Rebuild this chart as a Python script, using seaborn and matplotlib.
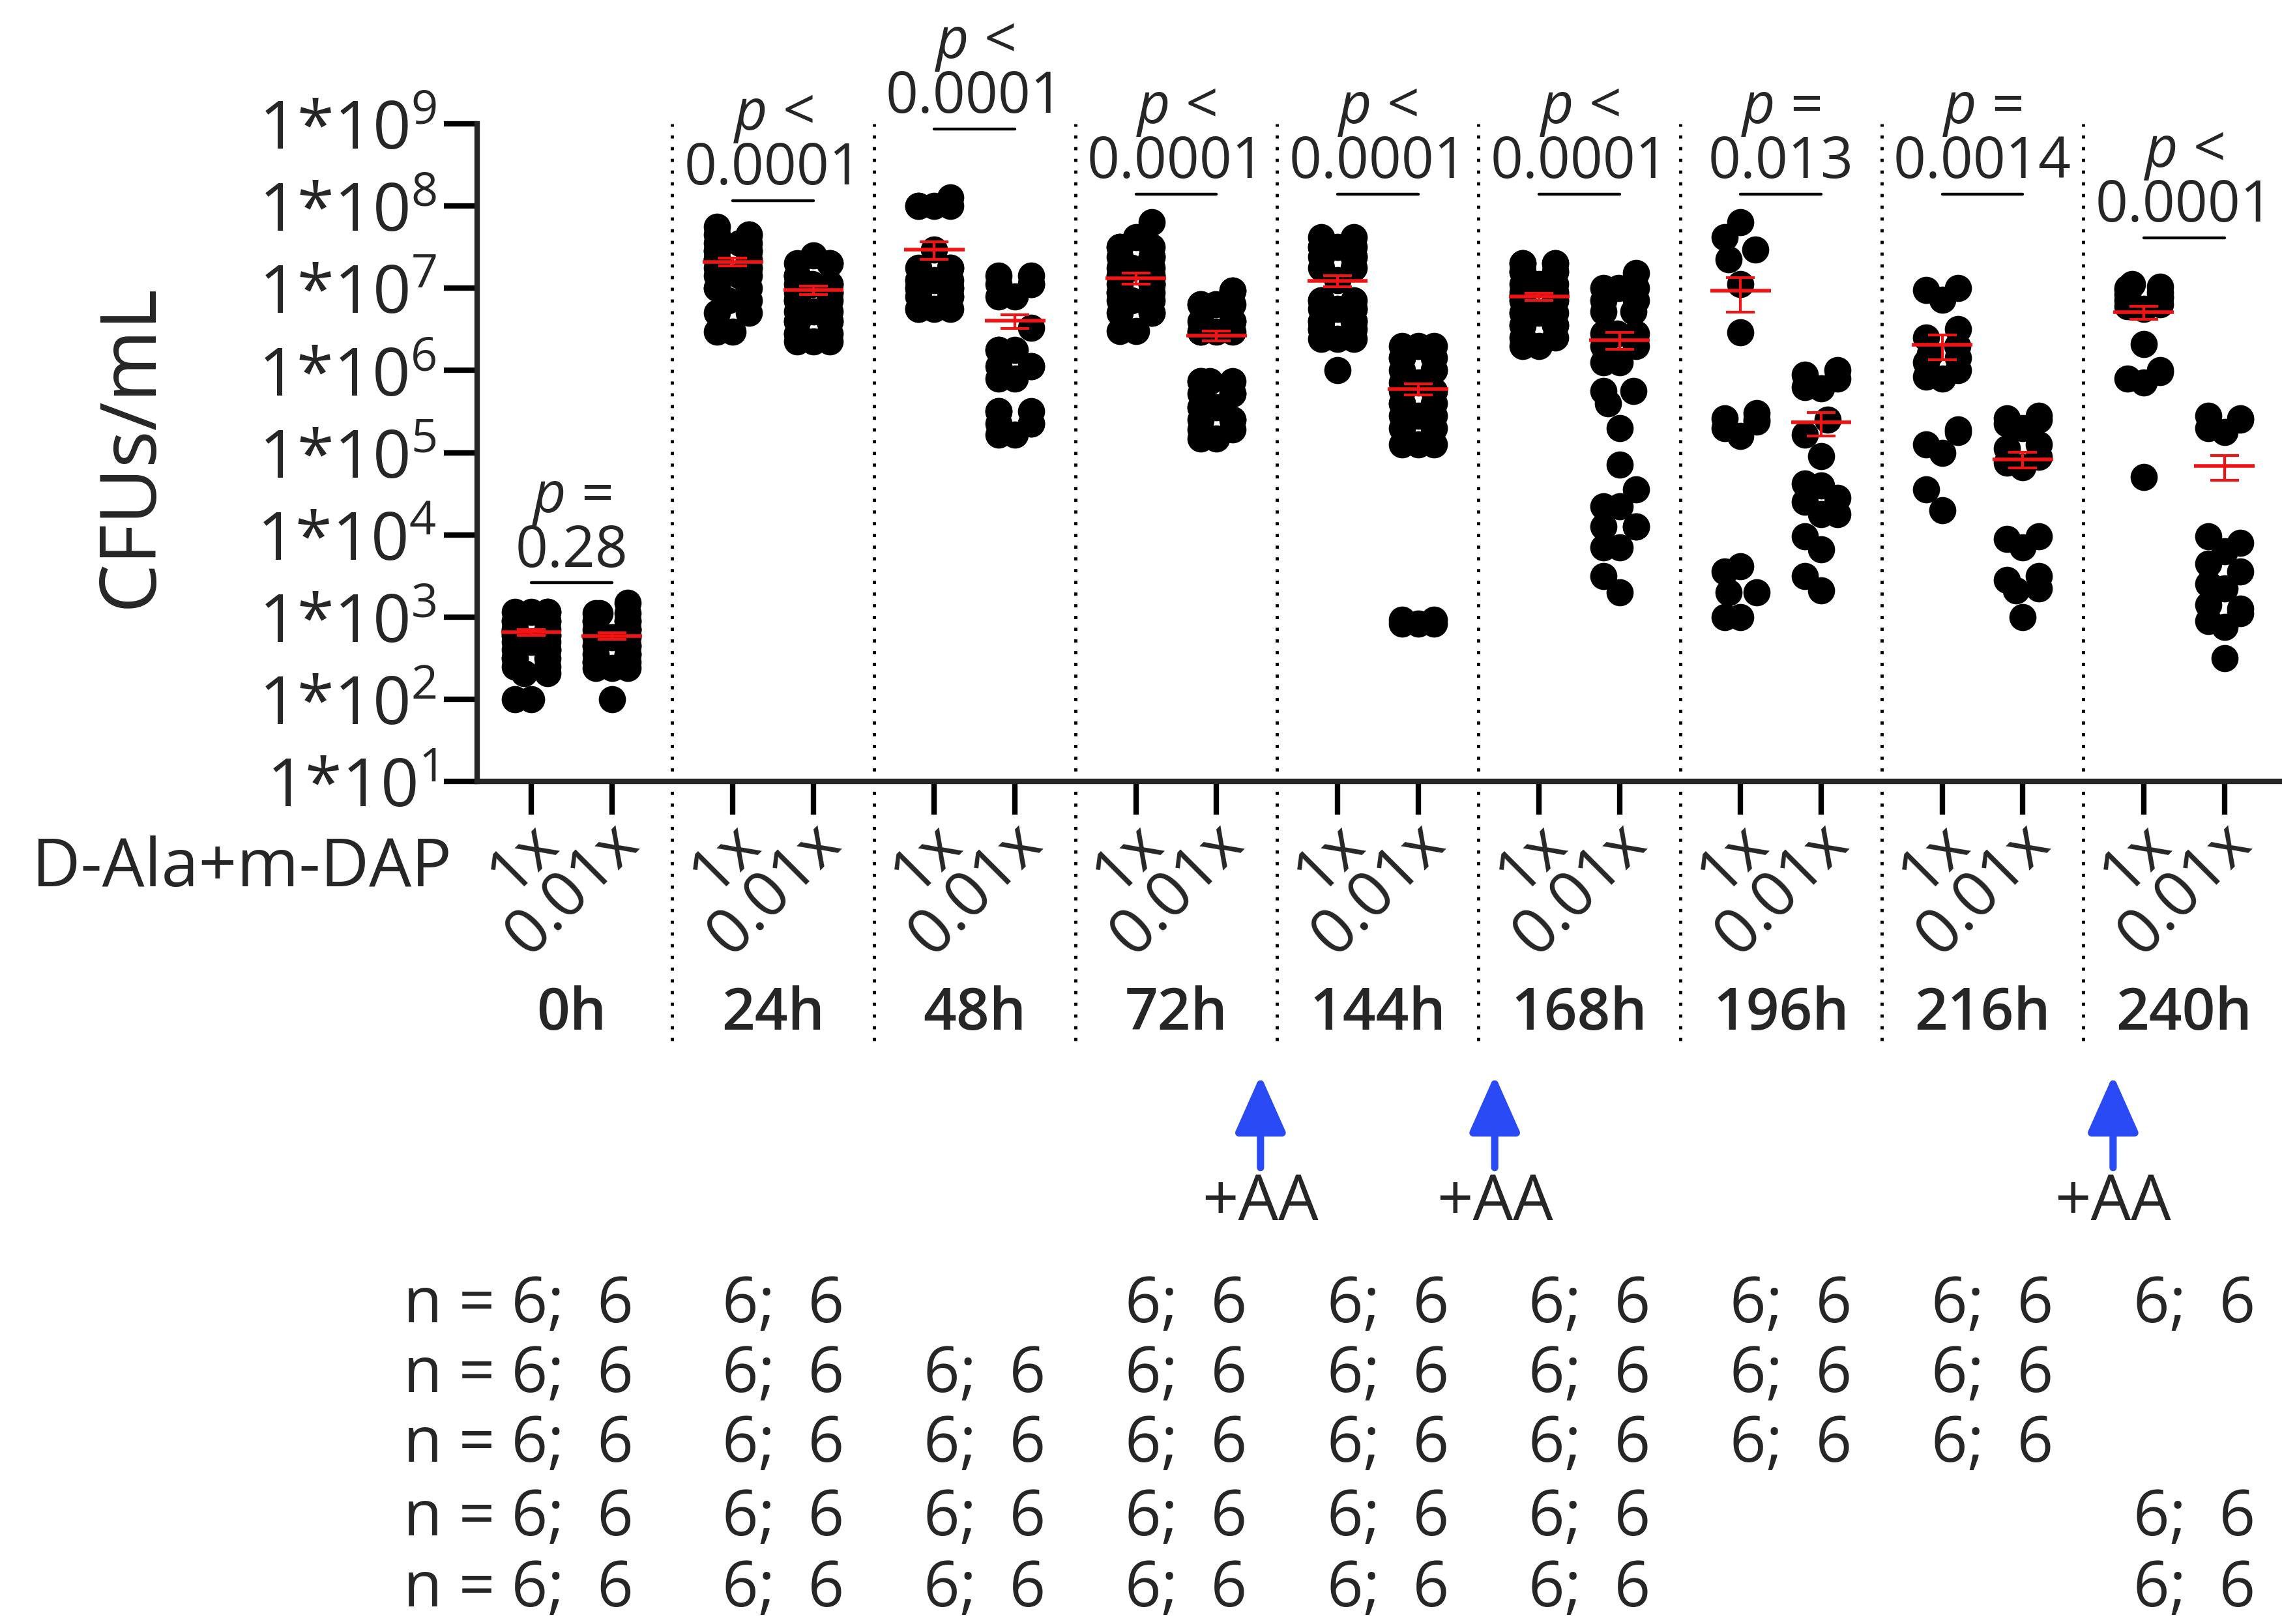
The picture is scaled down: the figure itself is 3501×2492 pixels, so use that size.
import numpy as np
import pandas as pd
import matplotlib
matplotlib.use('Agg')
import matplotlib.pyplot as plt
import matplotlib.transforms as mtransforms
import seaborn as sns

# time points and supplement levels
times = ['0h', '24h', '48h', '72h', '144h', '168h', '196h', '216h', '240h']
doses = ['1x', '0.01x']

# log10(CFUs/mL) of each dot
lg_0h_1x = [3.06, 3.06, 3.06, 3.06, 2.95, 2.95, 2.95, 2.95, 2.85, 2.85, 2.85, 2.78, 2.78, 2.78, 2.78,
            2.7, 2.7, 2.7, 2.6, 2.6, 2.6, 2.5, 2.5, 2.5, 2.4, 2.4, 2.32, 2.32, 2.0, 2.0]
lg_0h_001 = [3.17, 3.05, 3.05, 3.05, 2.95, 2.95, 2.95, 2.95, 2.85, 2.85, 2.85, 2.85, 2.75, 2.75, 2.75,
             2.75, 2.65, 2.65, 2.65, 2.65, 2.55, 2.55, 2.55, 2.45, 2.45, 2.45, 2.38, 2.38, 2.38, 2.0]
lg_24h_1x = [7.75, 7.65, 7.65, 7.65, 7.55, 7.55, 7.55, 7.45, 7.45, 7.45, 7.45, 7.35, 7.35, 7.35, 7.35,
             7.25, 7.25, 7.25, 7.15, 7.15, 7.15, 7.0, 7.0, 7.0, 6.85, 6.85, 6.7, 6.7, 6.47, 6.47]
lg_24h_001 = [7.4, 7.3, 7.3, 7.3, 7.15, 7.15, 7.15, 7.05, 7.05, 7.05, 7.05, 6.95, 6.95, 6.95, 6.85,
              6.85, 6.85, 6.72, 6.72, 6.72, 6.6, 6.6, 6.6, 6.6, 6.45, 6.45, 6.45, 6.35, 6.35, 6.35]
lg_48h_1x = [8.1, 8.0, 8.0, 8.0, 8.0, 7.47, 7.25, 7.25, 7.25, 7.1, 7.1, 7.1, 7.1, 7.0, 7.0, 7.0, 7.0,
             6.9, 6.9, 6.9, 6.75, 6.75, 6.75, 6.75]
lg_48h_001 = [7.15, 7.15, 7.05, 7.05, 7.05, 6.9, 6.9, 6.52, 6.25, 6.25, 6.25, 6.05, 6.05, 6.05, 5.9, 5.9,
              5.5, 5.5, 5.5, 5.35, 5.35, 5.35, 5.22, 5.22]
lg_72h_1x = [7.8, 7.62, 7.5, 7.5, 7.5, 7.38, 7.38, 7.38, 7.25, 7.25, 7.25, 7.15, 7.15, 7.15, 7.15,
             7.05, 7.05, 7.05, 7.05, 6.95, 6.95, 6.95, 6.85, 6.85, 6.85, 6.7, 6.7, 6.7, 6.48, 6.48]
lg_72h_001 = [6.97, 6.97, 6.8, 6.8, 6.8, 6.8, 6.6, 6.6, 6.6, 6.47, 6.47, 6.47, 6.47, 5.87, 5.87, 5.87,
              5.87, 5.72, 5.72, 5.72, 5.55, 5.55, 5.55, 5.4, 5.4, 5.4, 5.28, 5.28, 5.17, 5.17]
lg_144h_1x = [7.62, 7.62, 7.5, 7.5, 7.5, 7.5, 7.38, 7.38, 7.38, 7.25, 7.25, 7.1, 6.85, 6.85, 6.85,
              6.75, 6.75, 6.75, 6.75, 6.6, 6.6, 6.6, 6.6, 6.5, 6.5, 6.5, 6.38, 6.38, 6.38, 6.0]
lg_144h_001 = [6.3, 6.3, 6.3, 6.15, 6.15, 6.15, 6.0, 6.0, 6.0, 5.85, 5.85, 5.75, 5.75, 5.75, 5.6,
               5.6, 5.6, 5.45, 5.45, 5.45, 5.3, 5.3, 5.1, 5.1, 5.1, 2.97, 2.97, 2.92, 2.92, 2.92]
lg_168h_1x = [7.3, 7.3, 7.3, 7.3, 7.2, 7.2, 7.2, 7.2, 7.05, 7.05, 7.05, 6.95, 6.95, 6.95, 6.85, 6.85,
              6.85, 6.85, 6.7, 6.7, 6.7, 6.7, 6.55, 6.55, 6.55, 6.55, 6.4, 6.4, 6.3, 6.3]
lg_168h_001 = [7.18, 7.0, 7.0, 7.0, 6.85, 6.85, 6.72, 6.72, 6.45, 6.45, 6.45, 6.3, 6.3, 6.1, 6.1,
               5.75, 5.75, 5.6, 5.3, 4.85, 4.55, 4.35, 4.35, 4.1, 4.1, 4.1, 3.85, 3.85, 3.5, 3.3]
lg_196h_1x = [7.8, 7.62, 7.47, 7.35, 7.05, 6.46, 5.48, 5.42, 5.4, 5.38, 5.3, 5.2,
              3.62, 3.55, 3.3, 3.3, 3.0, 3.0]
lg_196h_001 = [6.0, 5.95, 5.9, 5.8, 5.78, 5.4, 5.22, 4.96, 4.62, 4.6, 4.45, 4.4,
               4.25, 4.25, 3.98, 3.82, 3.5, 3.32]
lg_216h_1x = [7.0, 6.98, 6.86, 6.5, 6.4, 6.3, 6.2, 6.15, 6.1, 6.0, 5.92, 5.9,
              5.28, 5.25, 5.1, 5.0, 4.55, 4.3]
lg_216h_001 = [5.45, 5.42, 5.4, 5.35, 5.3, 5.1, 5.05, 4.95, 4.88, 4.82, 3.98, 3.95,
               3.85, 3.5, 3.45, 3.35, 3.32, 3.0]
lg_240h_1x = [7.05, 7.02, 7.0, 6.98, 6.95, 6.92, 6.9, 6.88, 6.85, 6.8, 6.78, 6.75,
              6.32, 6.0, 5.98, 5.9, 5.85, 4.7]
lg_240h_001 = [5.45, 5.42, 5.4, 5.3, 5.25, 3.98, 3.9, 3.8, 3.65, 3.55, 3.4, 3.35,
               3.15, 3.1, 3.05, 2.95, 2.88, 2.5]

# mean +/- SEM (CFUs/mL) as drawn in red
mean_1x = [650, 2.1e7, 2.95e7, 1.32e7, 1.23e7, 7.9e6, 9.3e6, 2.04e6, 5.1e6]
sem_1x = [50, 2.4e6, 7.0e6, 2.1e6, 1.8e6, 8.5e5, 4.2e6, 6.8e5, 9.0e5]
mean_001 = [590, 9.5e6, 4.0e6, 2.63e6, 5.9e5, 2.34e6, 2.34e5, 8.3e4, 6.9e4]
sem_001 = [50, 1.1e6, 7.6e5, 3.6e5, 9.0e4, 5.5e5, 7.5e4, 1.8e4, 2.3e4]

# p values of the 1x vs 0.01x comparison, and the height of the bar under them
p_sign = ['=', '<', '<', '<', '<', '<', '=', '=', '<']
p_text = ['0.28', '0.0001', '0.0001', '0.0001', '0.0001', '0.0001', '0.013', '0.0014', '0.0001']
p_bar = [2.6e3, 1.15e8, 8.7e8, 1.4e8, 1.4e8, 1.4e8, 1.4e8, 1.4e8, 4.1e7]

# n per experiment (1x; 0.01x), one row per experiment
n_row1 = ['6;  6', '6;  6', '', '6;  6', '6;  6', '6;  6', '6;  6', '6;  6', '6;  6']
n_row2 = ['6;  6', '6;  6', '6;  6', '6;  6', '6;  6', '6;  6', '6;  6', '6;  6', '']
n_row3 = ['6;  6', '6;  6', '6;  6', '6;  6', '6;  6', '6;  6', '6;  6', '6;  6', '']
n_row4 = ['6;  6', '6;  6', '6;  6', '6;  6', '6;  6', '6;  6', '', '', '6;  6']
n_row5 = ['6;  6', '6;  6', '6;  6', '6;  6', '6;  6', '6;  6', '', '', '6;  6']

# amino acids were added after these time points
aa_added = ['72h', '144h', '216h']

groups = [lg_0h_1x, lg_0h_001, lg_24h_1x, lg_24h_001, lg_48h_1x, lg_48h_001,
          lg_72h_1x, lg_72h_001, lg_144h_1x, lg_144h_001, lg_168h_1x, lg_168h_001,
          lg_196h_1x, lg_196h_001, lg_216h_1x, lg_216h_001, lg_240h_1x, lg_240h_001]

rows = []
for i, vals in enumerate(groups):
    t = times[i // 2]
    d = doses[i % 2]
    for v in vals:
        rows.append({'slot': t + '|' + d, 'cfu': 10 ** v})
df = pd.DataFrame(rows)

# 5 slots per time point: 1x, gap, 0.01x, gap, gap
order = []
for t in times:
    order += [t + '|1x', t + '|a', t + '|0.01x', t + '|b', t + '|c']

sns.set_theme(style='ticks')
plt.rcParams['font.family'] = ['Open Sans', 'DejaVu Sans']
plt.rcParams['mathtext.fontset'] = 'custom'
plt.rcParams['mathtext.rm'] = 'Open Sans'
plt.rcParams['mathtext.it'] = 'Open Sans:italic'
plt.rcParams['mathtext.bf'] = 'Open Sans:bold'

RED = '#f01414'
BLUE = '#2a4af5'

fig = plt.figure(figsize=(35.01, 24.92), dpi=100)
ax = fig.add_axes([0.2092, 0.5188, 0.7908, 0.4050])

sns.swarmplot(data=df, x='slot', y='cfu', order=order, color='black', size=30,
              linewidth=0, log_scale=True, warn_thresh=1, ax=ax, zorder=3)

pos_1x = np.arange(len(times)) * 5
pos_001 = pos_1x + 2
centers = pos_1x + 1

# mean and SEM
half = 0.75
ax.hlines(mean_1x, pos_1x - half, pos_1x + half, color=RED, lw=4, zorder=5)
ax.hlines(mean_001, pos_001 - half, pos_001 + half, color=RED, lw=4, zorder=5)
ax.errorbar(pos_1x, mean_1x, yerr=sem_1x, fmt='none', ecolor=RED, elinewidth=3,
            capsize=16, capthick=3, zorder=5)
ax.errorbar(pos_001, mean_001, yerr=sem_001, fmt='none', ecolor=RED, elinewidth=3,
            capsize=16, capthick=3, zorder=5)

ax.set_yscale('log')
ax.set_ylim(1e1, 1e9)
ax.set_xlim(-1.336, 43.43)
ax.set_yticks([10.0 ** k for k in range(1, 10)])
ax.set_yticklabels([r'1*10$^{%d}$' % k for k in range(1, 10)])
ax.yaxis.set_minor_locator(matplotlib.ticker.NullLocator())

ticks = []
labels = []
for a, b in zip(pos_1x, pos_001):
    ticks += [a, b]
    labels += doses
ax.set_xticks(ticks)
ax.set_xticklabels(labels)
ax.set_xlabel('')
ax.set_ylabel('CFUs/mL', fontsize=86)
ax.yaxis.set_label_coords(-0.17, 0.51)

for s in ['top', 'right']:
    ax.spines[s].set_visible(False)
for s in ['left', 'bottom']:
    ax.spines[s].set_linewidth(6)
ax.tick_params(axis='both', length=37, width=6, color='black')
ax.tick_params(axis='y', labelsize=74, pad=8)
ax.tick_params(axis='x', labelsize=70, pad=21)
shift = mtransforms.ScaledTranslation(0.26, 0, fig.dpi_scale_trans)
for lab in ax.get_xticklabels():
    lab.set_rotation(45)
    lab.set_ha('right')
    lab.set_va('center')
    lab.set_rotation_mode('anchor')
    lab.set_transform(lab.get_transform() + shift)

# dotted separators between time points
for g in range(len(times) - 1):
    ax.axvline(pos_1x[g] + 3.5, ymin=-0.394, ymax=1.0, clip_on=False, color='black',
               lw=3.5, ls=(0, (1, 2.7)), zorder=1)

# p values and comparison bars
for g in range(len(times)):
    ax.plot([pos_1x[g], pos_001[g]], [p_bar[g], p_bar[g]], color='black', lw=3.2,
            clip_on=False)
    ax.text(centers[g], p_bar[g] * 10 ** 0.38, p_text[g], fontsize=63, ha='center',
            va='center', clip_on=False)
    ax.text(centers[g], p_bar[g] * 10 ** 1.03, r'$p$ ' + p_sign[g], fontsize=63,
            ha='center', va='center', clip_on=False)

bt = mtransforms.blended_transform_factory(ax.transData, fig.transFigure)

fig.text(0.198, 0.465, 'D-Ala+m-DAP', fontsize=74, ha='right', va='center')

for g, t in enumerate(times):
    ax.text(centers[g], 0.3754, t, transform=bt, fontsize=64, ha='center', va='center',
            fontweight='semibold')

# +AA arrows, placed just after the separator that follows each listed time point
arrow_dx = [-0.41, 0.4, 0.74]
for t, dx in zip(aa_added, arrow_dx):
    g = times.index(t)
    x = pos_1x[g] + 3.5 + dx
    ax.annotate('', xy=(x, 0.338), xytext=(x, 0.281), xycoords=bt, textcoords=bt,
                annotation_clip=False,
                arrowprops=dict(arrowstyle='-|>,head_length=2.7,head_width=1.2',
                                mutation_scale=20, color=BLUE, lw=8,
                                shrinkA=0, shrinkB=0))
    ax.text(x, 0.259, '+AA', transform=bt, fontsize=70, ha='center', va='center')

# n per experiment
row_y = [0.196, 0.153, 0.110, 0.065, 0.021]
for y, row in zip(row_y, [n_row1, n_row2, n_row3, n_row4, n_row5]):
    for g, s in enumerate(row):
        if not s:
            continue
        if g == 0:
            ax.text(2.53, y, 'n = ' + s, transform=bt, fontsize=70, ha='right', va='center')
        else:
            ax.text(centers[g] + 0.25, y, s, transform=bt, fontsize=70, ha='center',
                    va='center')

fig.savefig('out.png', dpi=100)
